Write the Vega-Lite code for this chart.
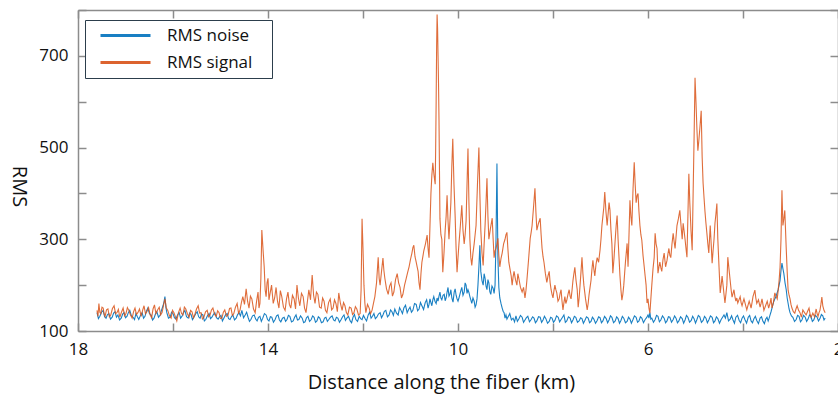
{
  "$schema": "https://vega.github.io/schema/vega-lite/v6.json",
  "width": 760,
  "height": 321,
  "autosize": {"type": "none"},
  "padding": {"left": 78, "top": 10, "right": 0, "bottom": 64},
  "background": "white",
  "config": {
    "view": {"stroke": null},
    "font": "Open Sans",
    "axis": {
      "grid": false,
      "domainColor": "#8c8c8c",
      "tickColor": "#8c8c8c",
      "domainWidth": 1.5,
      "tickWidth": 1.5,
      "labelFont": "Open Sans",
      "titleFont": "Open Sans",
      "labelFontSize": 17,
      "titleFontSize": 20,
      "titleFontWeight": "normal",
      "labelColor": "#111111",
      "titleColor": "#111111"
    }
  },
  "datasets": {
    "noise": [
      {"d":17.60,"v":140},{"d":17.57,"v":127},{"d":17.54,"v":132},{"d":17.505,"v":141},{"d":17.47,"v":145},{"d":17.44,"v":131},{"d":17.41,"v":128},{"d":17.38,"v":136},{"d":17.35,"v":138},{"d":17.315,"v":126},
      {"d":17.28,"v":130},{"d":17.25,"v":139},{"d":17.22,"v":142},{"d":17.19,"v":130},{"d":17.16,"v":135},{"d":17.125,"v":124},{"d":17.09,"v":128},{"d":17.06,"v":137},{"d":17.03,"v":140},{"d":17.00,"v":129},
      {"d":16.97,"v":132},{"d":16.94,"v":140},{"d":16.91,"v":145},{"d":16.875,"v":133},{"d":16.84,"v":130},{"d":16.81,"v":125},{"d":16.78,"v":138},{"d":16.75,"v":131},{"d":16.72,"v":125},{"d":16.685,"v":134},
      {"d":16.65,"v":140},{"d":16.62,"v":128},{"d":16.59,"v":132},{"d":16.56,"v":143},{"d":16.53,"v":150},{"d":16.495,"v":138},{"d":16.46,"v":135},{"d":16.43,"v":124},{"d":16.40,"v":128},{"d":16.37,"v":137},
      {"d":16.34,"v":142},{"d":16.305,"v":130},{"d":16.27,"v":135},{"d":16.24,"v":146},{"d":16.21,"v":155},{"d":16.19,"v":163},{"d":16.17,"v":175},{"d":16.15,"v":152},{"d":16.13,"v":140},{"d":16.095,"v":128},
      {"d":16.06,"v":130},{"d":16.03,"v":141},{"d":16.00,"v":138},{"d":15.97,"v":129},{"d":15.94,"v":126},{"d":15.905,"v":135},{"d":15.87,"v":140},{"d":15.84,"v":128},{"d":15.81,"v":132},{"d":15.78,"v":140},
      {"d":15.75,"v":145},{"d":15.715,"v":131},{"d":15.68,"v":128},{"d":15.65,"v":139},{"d":15.62,"v":136},{"d":15.59,"v":125},{"d":15.56,"v":130},{"d":15.525,"v":137},{"d":15.49,"v":142},{"d":15.46,"v":131},
      {"d":15.43,"v":128},{"d":15.40,"v":137},{"d":15.37,"v":135},{"d":15.34,"v":122},{"d":15.31,"v":125},{"d":15.275,"v":133},{"d":15.24,"v":138},{"d":15.21,"v":127},{"d":15.18,"v":130},{"d":15.15,"v":136},
      {"d":15.12,"v":140},{"d":15.085,"v":129},{"d":15.05,"v":126},{"d":15.02,"v":131},{"d":14.99,"v":134},{"d":14.96,"v":122},{"d":14.93,"v":128},{"d":14.895,"v":135},{"d":14.86,"v":138},{"d":14.83,"v":127},
      {"d":14.80,"v":125},{"d":14.77,"v":131},{"d":14.74,"v":135},{"d":14.705,"v":124},{"d":14.67,"v":128},{"d":14.64,"v":136},{"d":14.61,"v":140},{"d":14.58,"v":133},{"d":14.55,"v":145},{"d":14.515,"v":129},
      {"d":14.48,"v":135},{"d":14.45,"v":141},{"d":14.42,"v":130},{"d":14.39,"v":121},{"d":14.36,"v":125},{"d":14.325,"v":133},{"d":14.29,"v":135},{"d":14.26,"v":126},{"d":14.23,"v":122},{"d":14.20,"v":130},
      {"d":14.17,"v":132},{"d":14.14,"v":121},{"d":14.11,"v":128},{"d":14.075,"v":138},{"d":14.04,"v":135},{"d":14.01,"v":125},{"d":13.98,"v":122},{"d":13.95,"v":131},{"d":13.92,"v":130},{"d":13.885,"v":119},
      {"d":13.85,"v":125},{"d":13.82,"v":133},{"d":13.79,"v":135},{"d":13.76,"v":124},{"d":13.73,"v":120},{"d":13.695,"v":128},{"d":13.66,"v":130},{"d":13.63,"v":121},{"d":13.60,"v":125},{"d":13.57,"v":134},
      {"d":13.54,"v":132},{"d":13.505,"v":120},{"d":13.47,"v":122},{"d":13.44,"v":130},{"d":13.41,"v":135},{"d":13.38,"v":124},{"d":13.35,"v":125},{"d":13.315,"v":133},{"d":13.28,"v":128},{"d":13.25,"v":118},
      {"d":13.22,"v":120},{"d":13.19,"v":129},{"d":13.16,"v":132},{"d":13.125,"v":121},{"d":13.09,"v":125},{"d":13.06,"v":133},{"d":13.03,"v":130},{"d":13.00,"v":119},{"d":12.97,"v":122},{"d":12.94,"v":131},
      {"d":12.91,"v":128},{"d":12.875,"v":118},{"d":12.84,"v":120},{"d":12.81,"v":128},{"d":12.78,"v":130},{"d":12.75,"v":121},{"d":12.72,"v":125},{"d":12.685,"v":130},{"d":12.65,"v":133},{"d":12.62,"v":124},
      {"d":12.59,"v":122},{"d":12.56,"v":130},{"d":12.53,"v":128},{"d":12.495,"v":119},{"d":12.46,"v":125},{"d":12.43,"v":131},{"d":12.40,"v":135},{"d":12.37,"v":123},{"d":12.34,"v":128},{"d":12.305,"v":132},
      {"d":12.27,"v":122},{"d":12.24,"v":118},{"d":12.21,"v":130},{"d":12.18,"v":136},{"d":12.15,"v":125},{"d":12.115,"v":121},{"d":12.08,"v":132},{"d":12.05,"v":127},{"d":12.02,"v":125},{"d":11.99,"v":134},
      {"d":11.96,"v":128},{"d":11.925,"v":122},{"d":11.89,"v":135},{"d":11.86,"v":141},{"d":11.83,"v":128},{"d":11.80,"v":132},{"d":11.77,"v":138},{"d":11.74,"v":127},{"d":11.71,"v":130},{"d":11.675,"v":137},
      {"d":11.64,"v":140},{"d":11.61,"v":129},{"d":11.58,"v":135},{"d":11.55,"v":143},{"d":11.52,"v":145},{"d":11.485,"v":131},{"d":11.45,"v":135},{"d":11.42,"v":146},{"d":11.39,"v":142},{"d":11.36,"v":134},
      {"d":11.33,"v":148},{"d":11.295,"v":139},{"d":11.26,"v":135},{"d":11.23,"v":151},{"d":11.20,"v":145},{"d":11.17,"v":138},{"d":11.14,"v":150},{"d":11.105,"v":156},{"d":11.07,"v":140},{"d":11.04,"v":147},
      {"d":11.01,"v":152},{"d":10.98,"v":141},{"d":10.95,"v":145},{"d":10.915,"v":160},{"d":10.88,"v":158},{"d":10.85,"v":144},{"d":10.82,"v":148},{"d":10.79,"v":162},{"d":10.76,"v":155},{"d":10.725,"v":147},
      {"d":10.69,"v":162},{"d":10.66,"v":168},{"d":10.63,"v":150},{"d":10.61,"v":158},{"d":10.59,"v":170},{"d":10.57,"v":162},{"d":10.55,"v":155},{"d":10.53,"v":168},{"d":10.51,"v":175},{"d":10.485,"v":165},
      {"d":10.46,"v":160},{"d":10.44,"v":172},{"d":10.42,"v":165},{"d":10.40,"v":176},{"d":10.38,"v":185},{"d":10.36,"v":172},{"d":10.34,"v":168},{"d":10.315,"v":178},{"d":10.29,"v":180},{"d":10.27,"v":166},
      {"d":10.25,"v":172},{"d":10.23,"v":185},{"d":10.21,"v":195},{"d":10.19,"v":176},{"d":10.17,"v":180},{"d":10.15,"v":190},{"d":10.13,"v":172},{"d":10.105,"v":163},{"d":10.08,"v":185},{"d":10.06,"v":192},
      {"d":10.04,"v":178},{"d":10.02,"v":170},{"d":10.00,"v":165},{"d":9.98,"v":172},{"d":9.96,"v":180},{"d":9.94,"v":188},{"d":9.92,"v":195},{"d":9.895,"v":178},{"d":9.87,"v":185},{"d":9.85,"v":205},
      {"d":9.83,"v":200},{"d":9.81,"v":182},{"d":9.79,"v":190},{"d":9.77,"v":184},{"d":9.75,"v":175},{"d":9.73,"v":168},{"d":9.71,"v":160},{"d":9.685,"v":172},{"d":9.66,"v":165},{"d":9.64,"v":152},
      {"d":9.62,"v":157},{"d":9.60,"v":170},{"d":9.58,"v":200},{"d":9.56,"v":240},{"d":9.54,"v":287},{"d":9.52,"v":230},{"d":9.495,"v":210},{"d":9.47,"v":200},{"d":9.45,"v":225},{"d":9.43,"v":215},
      {"d":9.41,"v":198},{"d":9.39,"v":190},{"d":9.37,"v":212},{"d":9.35,"v":205},{"d":9.33,"v":186},{"d":9.31,"v":180},{"d":9.285,"v":198},{"d":9.26,"v":193},{"d":9.24,"v":182},{"d":9.22,"v":200},
      {"d":9.20,"v":300},{"d":9.18,"v":465},{"d":9.16,"v":260},{"d":9.14,"v":195},{"d":9.12,"v":172},{"d":9.095,"v":160},{"d":9.07,"v":150},{"d":9.05,"v":143},{"d":9.03,"v":140},{"d":9.01,"v":128},
      {"d":8.99,"v":135},{"d":8.97,"v":126},{"d":8.95,"v":130},{"d":8.93,"v":134},{"d":8.91,"v":138},{"d":8.875,"v":124},{"d":8.84,"v":128},{"d":8.81,"v":120},{"d":8.78,"v":133},{"d":8.75,"v":121},
      {"d":8.72,"v":126},{"d":8.685,"v":134},{"d":8.65,"v":130},{"d":8.62,"v":119},{"d":8.59,"v":124},{"d":8.56,"v":129},{"d":8.53,"v":132},{"d":8.495,"v":120},{"d":8.46,"v":125},{"d":8.43,"v":131},
      {"d":8.40,"v":128},{"d":8.37,"v":118},{"d":8.34,"v":122},{"d":8.305,"v":131},{"d":8.27,"v":130},{"d":8.24,"v":119},{"d":8.21,"v":124},{"d":8.18,"v":132},{"d":8.15,"v":127},{"d":8.115,"v":117},
      {"d":8.08,"v":121},{"d":8.05,"v":130},{"d":8.02,"v":128},{"d":7.99,"v":119},{"d":7.96,"v":123},{"d":7.925,"v":133},{"d":7.89,"v":130},{"d":7.86,"v":120},{"d":7.83,"v":125},{"d":7.80,"v":130},
      {"d":7.77,"v":135},{"d":7.74,"v":119},{"d":7.71,"v":122},{"d":7.675,"v":131},{"d":7.64,"v":128},{"d":7.61,"v":118},{"d":7.58,"v":124},{"d":7.55,"v":132},{"d":7.52,"v":130},{"d":7.485,"v":119},
      {"d":7.45,"v":122},{"d":7.42,"v":129},{"d":7.39,"v":127},{"d":7.36,"v":117},{"d":7.33,"v":123},{"d":7.295,"v":131},{"d":7.26,"v":128},{"d":7.23,"v":118},{"d":7.20,"v":121},{"d":7.17,"v":130},
      {"d":7.14,"v":126},{"d":7.105,"v":117},{"d":7.07,"v":123},{"d":7.04,"v":131},{"d":7.01,"v":129},{"d":6.98,"v":118},{"d":6.95,"v":122},{"d":6.915,"v":132},{"d":6.88,"v":127},{"d":6.85,"v":118},
      {"d":6.82,"v":124},{"d":6.79,"v":133},{"d":6.76,"v":130},{"d":6.725,"v":118},{"d":6.69,"v":122},{"d":6.66,"v":131},{"d":6.63,"v":127},{"d":6.60,"v":117},{"d":6.57,"v":123},{"d":6.54,"v":132},
      {"d":6.51,"v":128},{"d":6.475,"v":118},{"d":6.44,"v":121},{"d":6.41,"v":130},{"d":6.38,"v":126},{"d":6.35,"v":117},{"d":6.32,"v":124},{"d":6.285,"v":133},{"d":6.25,"v":130},{"d":6.22,"v":119},
      {"d":6.19,"v":122},{"d":6.16,"v":131},{"d":6.13,"v":128},{"d":6.095,"v":118},{"d":6.06,"v":125},{"d":6.03,"v":129},{"d":6.00,"v":135},{"d":5.98,"v":128},{"d":5.96,"v":140},{"d":5.94,"v":126},
      {"d":5.92,"v":128},{"d":5.885,"v":119},{"d":5.85,"v":125},{"d":5.82,"v":134},{"d":5.79,"v":132},{"d":5.76,"v":120},{"d":5.73,"v":124},{"d":5.695,"v":133},{"d":5.66,"v":128},{"d":5.63,"v":118},
      {"d":5.60,"v":122},{"d":5.57,"v":131},{"d":5.54,"v":130},{"d":5.505,"v":119},{"d":5.47,"v":125},{"d":5.44,"v":133},{"d":5.41,"v":128},{"d":5.38,"v":118},{"d":5.35,"v":122},{"d":5.315,"v":131},
      {"d":5.28,"v":127},{"d":5.25,"v":117},{"d":5.22,"v":124},{"d":5.19,"v":134},{"d":5.16,"v":130},{"d":5.125,"v":119},{"d":5.09,"v":123},{"d":5.06,"v":132},{"d":5.03,"v":127},{"d":5.00,"v":117},
      {"d":4.97,"v":125},{"d":4.94,"v":134},{"d":4.91,"v":131},{"d":4.875,"v":119},{"d":4.84,"v":123},{"d":4.81,"v":132},{"d":4.78,"v":128},{"d":4.75,"v":118},{"d":4.72,"v":124},{"d":4.685,"v":133},
      {"d":4.65,"v":130},{"d":4.62,"v":118},{"d":4.59,"v":122},{"d":4.56,"v":131},{"d":4.53,"v":127},{"d":4.495,"v":117},{"d":4.46,"v":125},{"d":4.43,"v":130},{"d":4.40,"v":135},{"d":4.37,"v":128},
      {"d":4.34,"v":140},{"d":4.305,"v":122},{"d":4.27,"v":126},{"d":4.24,"v":133},{"d":4.21,"v":124},{"d":4.18,"v":117},{"d":4.15,"v":130},{"d":4.115,"v":134},{"d":4.08,"v":123},{"d":4.05,"v":118},
      {"d":4.02,"v":128},{"d":3.99,"v":133},{"d":3.96,"v":125},{"d":3.925,"v":117},{"d":3.89,"v":130},{"d":3.86,"v":134},{"d":3.83,"v":122},{"d":3.80,"v":118},{"d":3.77,"v":127},{"d":3.74,"v":132},
      {"d":3.71,"v":123},{"d":3.675,"v":116},{"d":3.64,"v":128},{"d":3.61,"v":131},{"d":3.58,"v":121},{"d":3.55,"v":116},{"d":3.52,"v":126},{"d":3.495,"v":130},{"d":3.47,"v":122},{"d":3.45,"v":128},
      {"d":3.43,"v":135},{"d":3.41,"v":142},{"d":3.39,"v":150},{"d":3.37,"v":158},{"d":3.35,"v":165},{"d":3.33,"v":170},{"d":3.31,"v":174},{"d":3.285,"v":182},{"d":3.26,"v":190},{"d":3.24,"v":200},
      {"d":3.22,"v":210},{"d":3.20,"v":232},{"d":3.18,"v":248},{"d":3.16,"v":236},{"d":3.14,"v":225},{"d":3.115,"v":205},{"d":3.09,"v":190},{"d":3.07,"v":172},{"d":3.05,"v":160},{"d":3.03,"v":148},
      {"d":3.01,"v":140},{"d":2.98,"v":133},{"d":2.95,"v":130},{"d":2.915,"v":121},{"d":2.88,"v":125},{"d":2.85,"v":134},{"d":2.82,"v":132},{"d":2.79,"v":120},{"d":2.76,"v":124},{"d":2.725,"v":134},
      {"d":2.69,"v":130},{"d":2.66,"v":121},{"d":2.63,"v":126},{"d":2.60,"v":135},{"d":2.57,"v":132},{"d":2.54,"v":121},{"d":2.51,"v":124},{"d":2.475,"v":134},{"d":2.44,"v":130},{"d":2.41,"v":122},
      {"d":2.38,"v":127},{"d":2.35,"v":136},{"d":2.32,"v":133},{"d":2.295,"v":124},{"d":2.27,"v":128}
    ],
    "signal": [
      {"d":17.60,"v":145},{"d":17.58,"v":132},{"d":17.56,"v":160},{"d":17.54,"v":141},{"d":17.52,"v":138},{"d":17.495,"v":152},{"d":17.47,"v":150},{"d":17.45,"v":137},{"d":17.43,"v":132},{"d":17.40,"v":146},
      {"d":17.37,"v":148},{"d":17.34,"v":131},{"d":17.31,"v":135},{"d":17.275,"v":149},{"d":17.24,"v":155},{"d":17.21,"v":138},{"d":17.18,"v":140},{"d":17.15,"v":147},{"d":17.12,"v":130},{"d":17.085,"v":141},
      {"d":17.05,"v":150},{"d":17.02,"v":133},{"d":16.99,"v":138},{"d":16.96,"v":151},{"d":16.93,"v":145},{"d":16.895,"v":135},{"d":16.86,"v":128},{"d":16.83,"v":142},{"d":16.80,"v":150},{"d":16.77,"v":136},
      {"d":16.74,"v":140},{"d":16.705,"v":148},{"d":16.67,"v":132},{"d":16.64,"v":145},{"d":16.61,"v":155},{"d":16.58,"v":138},{"d":16.55,"v":142},{"d":16.515,"v":151},{"d":16.48,"v":135},{"d":16.45,"v":129},
      {"d":16.42,"v":148},{"d":16.39,"v":157},{"d":16.36,"v":138},{"d":16.325,"v":146},{"d":16.29,"v":152},{"d":16.26,"v":135},{"d":16.23,"v":140},{"d":16.20,"v":156},{"d":16.17,"v":170},{"d":16.14,"v":150},
      {"d":16.11,"v":145},{"d":16.075,"v":133},{"d":16.04,"v":128},{"d":16.01,"v":145},{"d":15.98,"v":140},{"d":15.95,"v":131},{"d":15.92,"v":122},{"d":15.885,"v":140},{"d":15.85,"v":150},{"d":15.82,"v":138},
      {"d":15.79,"v":135},{"d":15.76,"v":152},{"d":15.73,"v":148},{"d":15.695,"v":137},{"d":15.66,"v":130},{"d":15.63,"v":145},{"d":15.60,"v":142},{"d":15.57,"v":129},{"d":15.54,"v":136},{"d":15.505,"v":148},
      {"d":15.47,"v":155},{"d":15.44,"v":139},{"d":15.41,"v":140},{"d":15.38,"v":126},{"d":15.35,"v":130},{"d":15.315,"v":142},{"d":15.28,"v":145},{"d":15.25,"v":131},{"d":15.22,"v":135},{"d":15.19,"v":146},
      {"d":15.16,"v":150},{"d":15.125,"v":136},{"d":15.09,"v":132},{"d":15.06,"v":144},{"d":15.03,"v":140},{"d":15.00,"v":127},{"d":14.97,"v":128},{"d":14.94,"v":141},{"d":14.91,"v":146},{"d":14.875,"v":132},
      {"d":14.84,"v":135},{"d":14.81,"v":149},{"d":14.78,"v":150},{"d":14.75,"v":134},{"d":14.72,"v":138},{"d":14.685,"v":152},{"d":14.65,"v":160},{"d":14.62,"v":139},{"d":14.59,"v":145},{"d":14.56,"v":162},
      {"d":14.53,"v":175},{"d":14.495,"v":158},{"d":14.46,"v":192},{"d":14.43,"v":165},{"d":14.40,"v":150},{"d":14.37,"v":176},{"d":14.34,"v":170},{"d":14.305,"v":148},{"d":14.27,"v":140},{"d":14.24,"v":165},
      {"d":14.21,"v":185},{"d":14.19,"v":150},{"d":14.17,"v":160},{"d":14.15,"v":215},{"d":14.13,"v":320},{"d":14.10,"v":270},{"d":14.08,"v":240},{"d":14.06,"v":190},{"d":14.04,"v":175},{"d":14.02,"v":205},
      {"d":14.00,"v":215},{"d":13.98,"v":168},{"d":13.96,"v":180},{"d":13.925,"v":200},{"d":13.89,"v":160},{"d":13.86,"v":172},{"d":13.83,"v":195},{"d":13.80,"v":165},{"d":13.77,"v":150},{"d":13.74,"v":188},
      {"d":13.71,"v":175},{"d":13.675,"v":152},{"d":13.64,"v":145},{"d":13.61,"v":170},{"d":13.58,"v":185},{"d":13.55,"v":158},{"d":13.52,"v":150},{"d":13.485,"v":178},{"d":13.45,"v":170},{"d":13.42,"v":148},
      {"d":13.39,"v":200},{"d":13.36,"v":172},{"d":13.33,"v":155},{"d":13.295,"v":182},{"d":13.26,"v":175},{"d":13.23,"v":150},{"d":13.20,"v":140},{"d":13.17,"v":165},{"d":13.14,"v":190},{"d":13.105,"v":168},
      {"d":13.07,"v":222},{"d":13.04,"v":178},{"d":13.01,"v":160},{"d":12.98,"v":185},{"d":12.95,"v":180},{"d":12.915,"v":152},{"d":12.88,"v":150},{"d":12.85,"v":172},{"d":12.82,"v":165},{"d":12.79,"v":145},
      {"d":12.76,"v":140},{"d":12.725,"v":162},{"d":12.69,"v":170},{"d":12.66,"v":146},{"d":12.63,"v":150},{"d":12.60,"v":168},{"d":12.57,"v":160},{"d":12.54,"v":142},{"d":12.51,"v":183},{"d":12.475,"v":160},
      {"d":12.44,"v":145},{"d":12.41,"v":162},{"d":12.38,"v":155},{"d":12.35,"v":140},{"d":12.32,"v":135},{"d":12.285,"v":152},{"d":12.25,"v":150},{"d":12.22,"v":136},{"d":12.19,"v":140},{"d":12.16,"v":153},
      {"d":12.13,"v":148},{"d":12.095,"v":135},{"d":12.06,"v":138},{"d":12.04,"v":190},{"d":12.02,"v":345},{"d":12.00,"v":280},{"d":11.98,"v":200},{"d":11.96,"v":160},{"d":11.94,"v":140},{"d":11.905,"v":158},
      {"d":11.87,"v":150},{"d":11.84,"v":138},{"d":11.81,"v":145},{"d":11.78,"v":160},{"d":11.75,"v":175},{"d":11.715,"v":205},{"d":11.68,"v":261},{"d":11.66,"v":215},{"d":11.64,"v":200},{"d":11.61,"v":230},
      {"d":11.58,"v":259},{"d":11.56,"v":232},{"d":11.54,"v":215},{"d":11.505,"v":192},{"d":11.47,"v":180},{"d":11.44,"v":198},{"d":11.41,"v":205},{"d":11.38,"v":176},{"d":11.35,"v":185},{"d":11.315,"v":212},
      {"d":11.28,"v":225},{"d":11.25,"v":205},{"d":11.22,"v":195},{"d":11.19,"v":172},{"d":11.16,"v":180},{"d":11.125,"v":200},{"d":11.09,"v":215},{"d":11.06,"v":228},{"d":11.03,"v":240},{"d":11.00,"v":256},
      {"d":10.97,"v":270},{"d":10.95,"v":282},{"d":10.93,"v":287},{"d":10.905,"v":262},{"d":10.88,"v":250},{"d":10.86,"v":240},{"d":10.84,"v":230},{"d":10.82,"v":205},{"d":10.80,"v":190},{"d":10.78,"v":225},
      {"d":10.76,"v":250},{"d":10.74,"v":262},{"d":10.72,"v":275},{"d":10.685,"v":290},{"d":10.65,"v":309},{"d":10.63,"v":280},{"d":10.61,"v":260},{"d":10.59,"v":330},{"d":10.57,"v":400},{"d":10.55,"v":440},
      {"d":10.53,"v":467},{"d":10.505,"v":440},{"d":10.48,"v":420},{"d":10.47,"v":500},{"d":10.46,"v":600},{"d":10.45,"v":720},{"d":10.44,"v":790},{"d":10.43,"v":760},{"d":10.42,"v":700},{"d":10.41,"v":640},
      {"d":10.40,"v":560},{"d":10.39,"v":450},{"d":10.38,"v":345},{"d":10.36,"v":310},{"d":10.34,"v":300},{"d":10.33,"v":260},{"d":10.32,"v":228},{"d":10.295,"v":270},{"d":10.27,"v":320},{"d":10.25,"v":350},
      {"d":10.23,"v":396},{"d":10.21,"v":340},{"d":10.19,"v":300},{"d":10.17,"v":340},{"d":10.15,"v":380},{"d":10.13,"v":460},{"d":10.11,"v":519},{"d":10.085,"v":420},{"d":10.06,"v":350},{"d":10.04,"v":280},
      {"d":10.02,"v":228},{"d":10.00,"v":260},{"d":9.98,"v":290},{"d":9.95,"v":330},{"d":9.92,"v":374},{"d":9.895,"v":320},{"d":9.87,"v":290},{"d":9.85,"v":310},{"d":9.83,"v":340},{"d":9.81,"v":420},
      {"d":9.79,"v":498},{"d":9.77,"v":380},{"d":9.75,"v":300},{"d":9.73,"v":260},{"d":9.71,"v":243},{"d":9.685,"v":270},{"d":9.66,"v":290},{"d":9.64,"v":310},{"d":9.62,"v":330},{"d":9.59,"v":420},
      {"d":9.56,"v":500},{"d":9.54,"v":400},{"d":9.52,"v":320},{"d":9.495,"v":270},{"d":9.47,"v":243},{"d":9.45,"v":290},{"d":9.43,"v":330},{"d":9.41,"v":380},{"d":9.39,"v":433},{"d":9.37,"v":350},
      {"d":9.35,"v":300},{"d":9.315,"v":325},{"d":9.28,"v":346},{"d":9.26,"v":300},{"d":9.24,"v":260},{"d":9.22,"v":275},{"d":9.20,"v":280},{"d":9.18,"v":290},{"d":9.16,"v":302},{"d":9.14,"v":265},
      {"d":9.12,"v":240},{"d":9.095,"v":258},{"d":9.07,"v":270},{"d":9.04,"v":290},{"d":9.01,"v":300},{"d":8.99,"v":310},{"d":8.97,"v":315},{"d":8.95,"v":280},{"d":8.93,"v":250},{"d":8.905,"v":235},
      {"d":8.88,"v":220},{"d":8.86,"v":200},{"d":8.84,"v":218},{"d":8.82,"v":230},{"d":8.79,"v":212},{"d":8.76,"v":200},{"d":8.74,"v":225},{"d":8.72,"v":215},{"d":8.685,"v":195},{"d":8.65,"v":185},
      {"d":8.62,"v":195},{"d":8.59,"v":172},{"d":8.57,"v":188},{"d":8.55,"v":210},{"d":8.515,"v":255},{"d":8.48,"v":302},{"d":8.46,"v":315},{"d":8.44,"v":330},{"d":8.41,"v":370},{"d":8.38,"v":411},
      {"d":8.36,"v":360},{"d":8.34,"v":320},{"d":8.305,"v":335},{"d":8.27,"v":346},{"d":8.25,"v":310},{"d":8.23,"v":280},{"d":8.21,"v":262},{"d":8.19,"v":250},{"d":8.16,"v":225},{"d":8.13,"v":206},
      {"d":8.105,"v":220},{"d":8.08,"v":230},{"d":8.06,"v":205},{"d":8.04,"v":190},{"d":8.02,"v":180},{"d":8.00,"v":172},{"d":7.98,"v":188},{"d":7.96,"v":200},{"d":7.94,"v":190},{"d":7.92,"v":183},
      {"d":7.895,"v":165},{"d":7.87,"v":170},{"d":7.85,"v":182},{"d":7.83,"v":190},{"d":7.81,"v":165},{"d":7.79,"v":146},{"d":7.77,"v":162},{"d":7.75,"v":175},{"d":7.73,"v":160},{"d":7.71,"v":167},
      {"d":7.685,"v":180},{"d":7.66,"v":190},{"d":7.64,"v":176},{"d":7.62,"v":170},{"d":7.60,"v":188},{"d":7.58,"v":210},{"d":7.56,"v":225},{"d":7.54,"v":239},{"d":7.515,"v":210},{"d":7.49,"v":190},
      {"d":7.47,"v":152},{"d":7.45,"v":172},{"d":7.43,"v":200},{"d":7.41,"v":230},{"d":7.39,"v":261},{"d":7.37,"v":225},{"d":7.35,"v":200},{"d":7.315,"v":170},{"d":7.28,"v":146},{"d":7.26,"v":160},
      {"d":7.24,"v":180},{"d":7.22,"v":195},{"d":7.20,"v":210},{"d":7.18,"v":235},{"d":7.16,"v":254},{"d":7.14,"v":235},{"d":7.12,"v":220},{"d":7.095,"v":245},{"d":7.07,"v":260},{"d":7.04,"v":250},
      {"d":7.01,"v":276},{"d":6.99,"v":300},{"d":6.97,"v":330},{"d":6.95,"v":350},{"d":6.93,"v":370},{"d":6.91,"v":403},{"d":6.885,"v":360},{"d":6.86,"v":330},{"d":6.84,"v":355},{"d":6.82,"v":380},
      {"d":6.80,"v":363},{"d":6.78,"v":320},{"d":6.76,"v":290},{"d":6.74,"v":226},{"d":6.715,"v":260},{"d":6.69,"v":300},{"d":6.67,"v":330},{"d":6.65,"v":352},{"d":6.63,"v":300},{"d":6.61,"v":260},
      {"d":6.59,"v":220},{"d":6.57,"v":190},{"d":6.55,"v":167},{"d":6.53,"v":180},{"d":6.51,"v":200},{"d":6.475,"v":250},{"d":6.44,"v":291},{"d":6.42,"v":240},{"d":6.40,"v":310},{"d":6.38,"v":385},
      {"d":6.36,"v":350},{"d":6.34,"v":330},{"d":6.315,"v":410},{"d":6.29,"v":468},{"d":6.27,"v":420},{"d":6.25,"v":380},{"d":6.23,"v":395},{"d":6.21,"v":400},{"d":6.19,"v":360},{"d":6.17,"v":330},
      {"d":6.15,"v":310},{"d":6.13,"v":298},{"d":6.105,"v":265},{"d":6.08,"v":240},{"d":6.06,"v":220},{"d":6.04,"v":200},{"d":6.02,"v":161},{"d":6.00,"v":170},{"d":5.98,"v":150},{"d":5.96,"v":139},
      {"d":5.94,"v":170},{"d":5.92,"v":200},{"d":5.895,"v":235},{"d":5.87,"v":260},{"d":5.85,"v":313},{"d":5.83,"v":290},{"d":5.81,"v":280},{"d":5.79,"v":226},{"d":5.77,"v":240},{"d":5.75,"v":250},
      {"d":5.73,"v":238},{"d":5.71,"v":230},{"d":5.685,"v":255},{"d":5.66,"v":270},{"d":5.63,"v":240},{"d":5.60,"v":254},{"d":5.58,"v":268},{"d":5.56,"v":280},{"d":5.54,"v":265},{"d":5.52,"v":260},
      {"d":5.495,"v":290},{"d":5.47,"v":313},{"d":5.45,"v":295},{"d":5.43,"v":280},{"d":5.41,"v":305},{"d":5.39,"v":330},{"d":5.36,"v":345},{"d":5.33,"v":363},{"d":5.305,"v":330},{"d":5.28,"v":300},
      {"d":5.26,"v":335},{"d":5.24,"v":318},{"d":5.22,"v":300},{"d":5.20,"v":280},{"d":5.18,"v":261},{"d":5.16,"v":350},{"d":5.14,"v":443},{"d":5.12,"v":380},{"d":5.095,"v":320},{"d":5.07,"v":276},
      {"d":5.05,"v":400},{"d":5.03,"v":520},{"d":5.01,"v":652},{"d":4.99,"v":600},{"d":4.97,"v":540},{"d":4.95,"v":493},{"d":4.93,"v":515},{"d":4.91,"v":540},{"d":4.88,"v":580},{"d":4.86,"v":480},
      {"d":4.84,"v":422},{"d":4.82,"v":390},{"d":4.80,"v":360},{"d":4.78,"v":335},{"d":4.76,"v":313},{"d":4.74,"v":290},{"d":4.72,"v":270},{"d":4.69,"v":330},{"d":4.67,"v":290},{"d":4.65,"v":248},
      {"d":4.63,"v":275},{"d":4.61,"v":300},{"d":4.59,"v":335},{"d":4.57,"v":355},{"d":4.55,"v":378},{"d":4.53,"v":300},{"d":4.505,"v":240},{"d":4.48,"v":183},{"d":4.46,"v":200},{"d":4.44,"v":220},
      {"d":4.42,"v":200},{"d":4.40,"v":180},{"d":4.38,"v":161},{"d":4.36,"v":180},{"d":4.34,"v":200},{"d":4.32,"v":261},{"d":4.295,"v":235},{"d":4.27,"v":210},{"d":4.25,"v":190},{"d":4.23,"v":174},
      {"d":4.21,"v":182},{"d":4.19,"v":190},{"d":4.17,"v":175},{"d":4.15,"v":165},{"d":4.13,"v":172},{"d":4.11,"v":161},{"d":4.085,"v":168},{"d":4.06,"v":175},{"d":4.04,"v":162},{"d":4.02,"v":155},
      {"d":4.00,"v":163},{"d":3.98,"v":170},{"d":3.95,"v":158},{"d":3.92,"v":146},{"d":3.895,"v":156},{"d":3.87,"v":165},{"d":3.85,"v":158},{"d":3.83,"v":150},{"d":3.81,"v":162},{"d":3.79,"v":175},
      {"d":3.77,"v":182},{"d":3.75,"v":189},{"d":3.73,"v":172},{"d":3.71,"v":160},{"d":3.675,"v":168},{"d":3.64,"v":152},{"d":3.62,"v":160},{"d":3.60,"v":170},{"d":3.58,"v":158},{"d":3.56,"v":145},
      {"d":3.525,"v":155},{"d":3.49,"v":165},{"d":3.46,"v":150},{"d":3.43,"v":161},{"d":3.41,"v":172},{"d":3.39,"v":150},{"d":3.36,"v":162},{"d":3.33,"v":183},{"d":3.305,"v":176},{"d":3.28,"v":170},
      {"d":3.26,"v":188},{"d":3.24,"v":210},{"d":3.22,"v":239},{"d":3.20,"v":300},{"d":3.18,"v":407},{"d":3.16,"v":330},{"d":3.14,"v":345},{"d":3.12,"v":363},{"d":3.09,"v":280},{"d":3.07,"v":230},
      {"d":3.05,"v":189},{"d":3.03,"v":178},{"d":3.01,"v":170},{"d":2.99,"v":158},{"d":2.97,"v":150},{"d":2.94,"v":142},{"d":2.91,"v":139},{"d":2.885,"v":148},{"d":2.86,"v":155},{"d":2.83,"v":145},
      {"d":2.80,"v":140},{"d":2.77,"v":130},{"d":2.74,"v":146},{"d":2.705,"v":140},{"d":2.67,"v":135},{"d":2.64,"v":143},{"d":2.61,"v":150},{"d":2.59,"v":138},{"d":2.57,"v":130},{"d":2.55,"v":134},
      {"d":2.53,"v":139},{"d":2.495,"v":131},{"d":2.46,"v":148},{"d":2.44,"v":138},{"d":2.42,"v":132},{"d":2.40,"v":140},{"d":2.38,"v":145},{"d":2.36,"v":158},{"d":2.34,"v":174},{"d":2.32,"v":155},
      {"d":2.295,"v":145},{"d":2.27,"v":140}
    ]
  },
  "layer": [
    {
      "data": {"name": "noise"},
      "mark": {"type": "line", "strokeWidth": 1.1, "opacity": 0.9, "clip": true},
      "encoding": {
        "x": {
          "field": "d", "type": "quantitative",
          "scale": {"domain": [2, 18], "reverse": true, "nice": false, "zero": false},
          "axis": {
            "orient": "bottom",
            "values": [2, 4, 6, 8, 10, 12, 14, 16, 18],
            "labelExpr": "datum.value % 4 == 2 ? datum.label : ''",
            "tickSize": -8,
            "labelPadding": 18,
            "labelFlush": false,
            "labelOverlap": false,
            "title": "Distance along the fiber (km)",
            "titleX": 363,
            "titleY": 57,
            "titleBaseline": "alphabetic",
            "titleAlign": "center"
          }
        },
        "y": {
          "field": "v", "type": "quantitative",
          "scale": {"domain": [100, 800], "nice": false, "zero": false},
          "axis": {
            "orient": "left",
            "values": [100, 200, 300, 400, 500, 600, 700, 800],
            "labelExpr": "datum.value % 200 == 100 ? datum.label : ''",
            "tickSize": -8,
            "labelPadding": 18,
            "labelFlush": false,
            "labelOverlap": false,
            "title": "RMS",
            "titleAngle": 90,
            "titleX": -66,
            "titleY": 176,
            "titleBaseline": "alphabetic",
            "titleAlign": "center"
          }
        },
        "color": {
          "datum": "RMS noise",
          "type": "nominal",
          "scale": {"domain": ["RMS noise", "RMS signal"], "range": ["#0072BD", "#D95319"]},
          "legend": {
            "title": null,
            "orient": "none",
            "legendX": 7,
            "legendY": 10,
            "padding": 7,
            "strokeColor": "#2c3e4c",
            "fillColor": "white",
            "symbolType": "M0,0H50",
            "symbolSize": 4,
            "symbolStrokeWidth": 3,
            "symbolOffset": 0,
            "labelOffset": 58,
            "labelFontSize": 17,
            "labelFont": "Open Sans",
            "labelColor": "#111111",
            "rowPadding": 9,
            "labelExpr": "datum.label + '\u2800'"
          }
        }
      }
    },
    {
      "data": {"name": "signal"},
      "mark": {"type": "line", "strokeWidth": 1.1, "opacity": 0.85, "clip": true},
      "encoding": {
        "x": {
          "field": "d", "type": "quantitative",
          "axis": {
            "orient": "top",
            "values": [2, 4, 6, 8, 10, 12, 14, 16, 18],
            "labels": false,
            "tickSize": -8,
            "title": null
          }
        },
        "y": {
          "field": "v", "type": "quantitative",
          "axis": {
            "orient": "right",
            "values": [100, 200, 300, 400, 500, 600, 700, 800],
            "labels": false,
            "tickSize": -8,
            "title": null
          }
        },
        "color": {"datum": "RMS signal", "type": "nominal"}
      }
    }
  ],
  "resolve": {"axis": {"x": "independent", "y": "independent"}}
}
